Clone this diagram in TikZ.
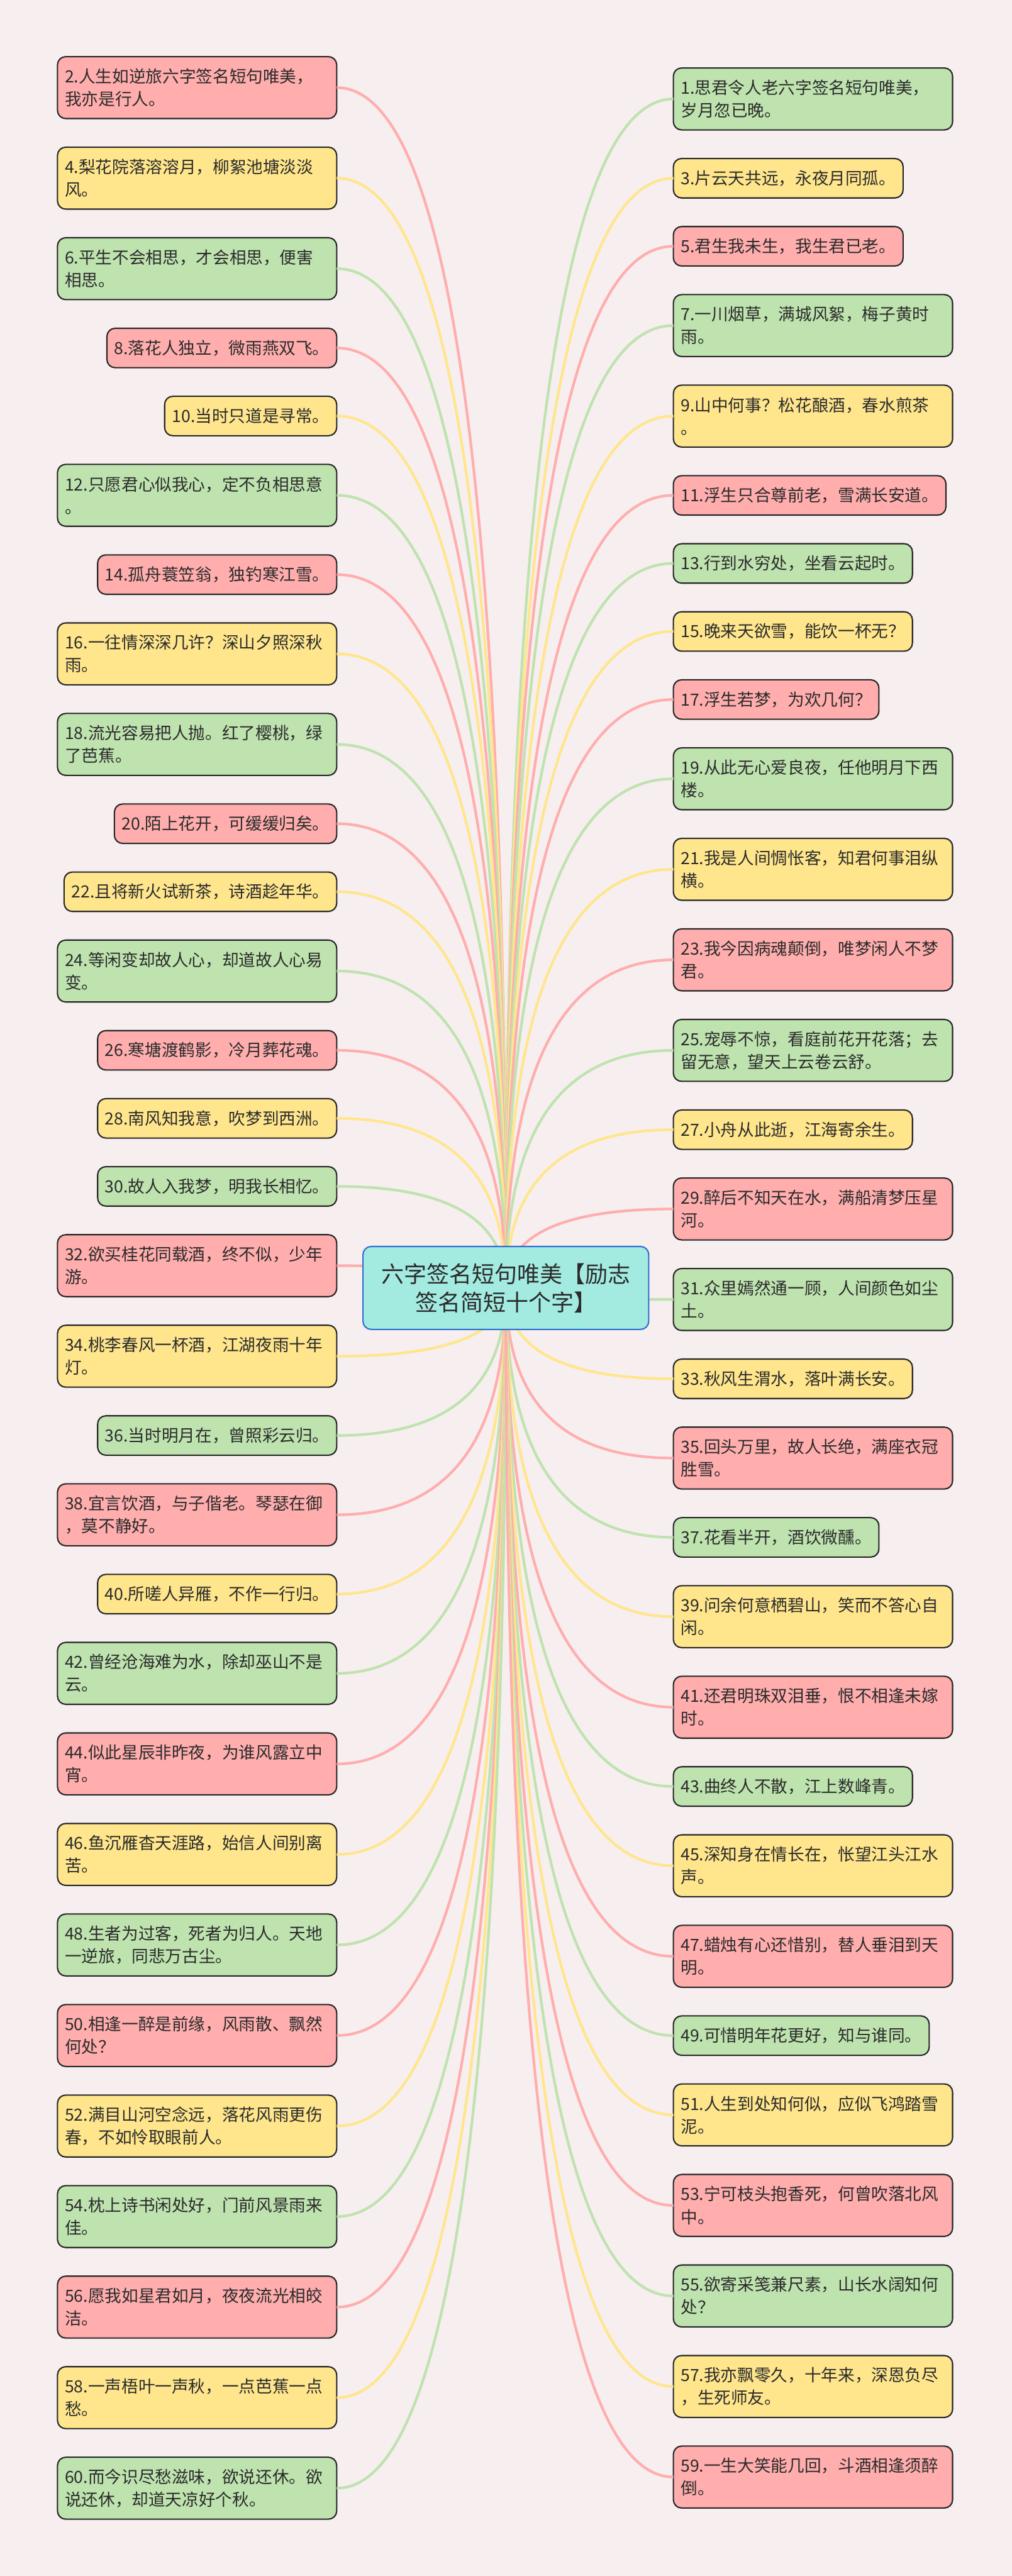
\documentclass[tikz,border=0pt]{standalone}
\usepackage{fontspec}
\setmainfont{Noto Sans CJK SC}
\usetikzlibrary{positioning,calc}
\definecolor{paper}{HTML}{F7EEEF}
\definecolor{rosef}{HTML}{FFADAD}
\definecolor{sunf}{HTML}{FFE68C}
\definecolor{leaff}{HTML}{BEE3AF}
\definecolor{themef}{HTML}{A3EBE1}
\definecolor{themed}{HTML}{2F6FD0}
\definecolor{ink}{HTML}{2B2B2B}
\tikzset{
	sent/.style={rectangle,rounded corners=5pt,draw=black!85,line width=0.8pt,outer sep=0pt,inner xsep=4.5pt,inner ysep=0pt,align=left,text=ink,font=\fontsize{10.2}{13.8}\selectfont,minimum height=24pt},
	wide/.style={text width=161pt,minimum height=37.7pt},
	rbox/.style={sent,fill=rosef},
	ybox/.style={sent,fill=sunf},
	gbox/.style={sent,fill=leaff},
	tol/.style={line width=1.6pt,to path={(\tikztostart.east) .. controls ($(\tikztostart.east)!0.667!(\tikztotarget |- \tikztostart.east)$) and ($(\tikztotarget)!0.667!(\tikztotarget |- \tikztostart.east)$) .. (\tikztotarget)}},
	tor/.style={line width=1.6pt,to path={(\tikztostart.west) .. controls ($(\tikztostart.west)!0.667!(\tikztotarget |- \tikztostart.west)$) and ($(\tikztotarget)!0.667!(\tikztotarget |- \tikztostart.west)$) .. (\tikztotarget)}},
}
\begin{document}
\begin{tikzpicture}[x=1pt,y=1pt,node distance=17.43pt]
		\fill [paper] (0,0) rectangle (616,-1568.6);
		\useasboundingbox (0,0) rectangle (616,-1568.6);
		\coordinate (hub) at (308,-784.25);
		% left side
		\node [rbox,wide,anchor=north east] (l2) at (205,-34.5) {2.人生如逆旅六字签名短句唯美，\\我亦是行人。}
			edge [tol,draw=rosef] (hub);
		\node [ybox,wide] (l4) [below=of l2.south east,anchor=north east] {4.梨花院落溶溶月，柳絮池塘淡淡\\风。}
			edge [tol,draw=sunf] (hub);
		\node [gbox,wide] (l6) [below=of l4.south east,anchor=north east] {6.平生不会相思，才会相思，便害\\相思。}
			edge [tol,draw=leaff] (hub);
		\node [rbox] (l8) [below=of l6.south east,anchor=north east] {8.落花人独立，微雨燕双飞。}
			edge [tol,draw=rosef] (hub);
		\node [ybox] (l10) [below=of l8.south east,anchor=north east] {10.当时只道是寻常。}
			edge [tol,draw=sunf] (hub);
		\node [gbox,wide] (l12) [below=of l10.south east,anchor=north east] {12.只愿君心似我心，定不负相思意\\。}
			edge [tol,draw=leaff] (hub);
		\node [rbox] (l14) [below=of l12.south east,anchor=north east] {14.孤舟蓑笠翁，独钓寒江雪。}
			edge [tol,draw=rosef] (hub);
		\node [ybox,wide] (l16) [below=of l14.south east,anchor=north east] {16.一往情深深几许？深山夕照深秋\\雨。}
			edge [tol,draw=sunf] (hub);
		\node [gbox,wide] (l18) [below=of l16.south east,anchor=north east] {18.流光容易把人抛。红了樱桃，绿\\了芭蕉。}
			edge [tol,draw=leaff] (hub);
		\node [rbox] (l20) [below=of l18.south east,anchor=north east] {20.陌上花开，可缓缓归矣。}
			edge [tol,draw=rosef] (hub);
		\node [ybox] (l22) [below=of l20.south east,anchor=north east] {22.且将新火试新茶，诗酒趁年华。}
			edge [tol,draw=sunf] (hub);
		\node [gbox,wide] (l24) [below=of l22.south east,anchor=north east] {24.等闲变却故人心，却道故人心易\\变。}
			edge [tol,draw=leaff] (hub);
		\node [rbox] (l26) [below=of l24.south east,anchor=north east] {26.寒塘渡鹤影，冷月葬花魂。}
			edge [tol,draw=rosef] (hub);
		\node [ybox] (l28) [below=of l26.south east,anchor=north east] {28.南风知我意，吹梦到西洲。}
			edge [tol,draw=sunf] (hub);
		\node [gbox] (l30) [below=of l28.south east,anchor=north east] {30.故人入我梦，明我长相忆。}
			edge [tol,draw=leaff] (hub);
		\node [rbox,wide] (l32) [below=of l30.south east,anchor=north east] {32.欲买桂花同载酒，终不似，少年\\游。}
			edge [tol,draw=rosef] (hub);
		\node [ybox,wide] (l34) [below=of l32.south east,anchor=north east] {34.桃李春风一杯酒，江湖夜雨十年\\灯。}
			edge [tol,draw=sunf] (hub);
		\node [gbox] (l36) [below=of l34.south east,anchor=north east] {36.当时明月在，曾照彩云归。}
			edge [tol,draw=leaff] (hub);
		\node [rbox,wide] (l38) [below=of l36.south east,anchor=north east] {38.宜言饮酒，与子偕老。琴瑟在御\\，莫不静好。}
			edge [tol,draw=rosef] (hub);
		\node [ybox] (l40) [below=of l38.south east,anchor=north east] {40.所嗟人异雁，不作一行归。}
			edge [tol,draw=sunf] (hub);
		\node [gbox,wide] (l42) [below=of l40.south east,anchor=north east] {42.曾经沧海难为水，除却巫山不是\\云。}
			edge [tol,draw=leaff] (hub);
		\node [rbox,wide] (l44) [below=of l42.south east,anchor=north east] {44.似此星辰非昨夜，为谁风露立中\\宵。}
			edge [tol,draw=rosef] (hub);
		\node [ybox,wide] (l46) [below=of l44.south east,anchor=north east] {46.鱼沉雁杳天涯路，始信人间别离\\苦。}
			edge [tol,draw=sunf] (hub);
		\node [gbox,wide] (l48) [below=of l46.south east,anchor=north east] {48.生者为过客，死者为归人。天地\\一逆旅，同悲万古尘。}
			edge [tol,draw=leaff] (hub);
		\node [rbox,wide] (l50) [below=of l48.south east,anchor=north east] {50.相逢一醉是前缘，风雨散、飘然\\何处？}
			edge [tol,draw=rosef] (hub);
		\node [ybox,wide] (l52) [below=of l50.south east,anchor=north east] {52.满目山河空念远，落花风雨更伤\\春，不如怜取眼前人。}
			edge [tol,draw=sunf] (hub);
		\node [gbox,wide] (l54) [below=of l52.south east,anchor=north east] {54.枕上诗书闲处好，门前风景雨来\\佳。}
			edge [tol,draw=leaff] (hub);
		\node [rbox,wide] (l56) [below=of l54.south east,anchor=north east] {56.愿我如星君如月，夜夜流光相皎\\洁。}
			edge [tol,draw=rosef] (hub);
		\node [ybox,wide] (l58) [below=of l56.south east,anchor=north east] {58.一声梧叶一声秋，一点芭蕉一点\\愁。}
			edge [tol,draw=sunf] (hub);
		\node [gbox,wide] (l60) [below=of l58.south east,anchor=north east] {60.而今识尽愁滋味，欲说还休。欲\\说还休，却道天凉好个秋。}
			edge [tol,draw=leaff] (hub);
		% right side
		\node [gbox,wide,anchor=north west] (r1) at (410,-41.4) {1.思君令人老六字签名短句唯美，\\岁月忽已晚。}
			edge [tor,draw=leaff] (hub);
		\node [ybox] (r3) [below=of r1.south west,anchor=north west] {3.片云天共远，永夜月同孤。}
			edge [tor,draw=sunf] (hub);
		\node [rbox] (r5) [below=of r3.south west,anchor=north west] {5.君生我未生，我生君已老。}
			edge [tor,draw=rosef] (hub);
		\node [gbox,wide] (r7) [below=of r5.south west,anchor=north west] {7.一川烟草，满城风絮，梅子黄时\\雨。}
			edge [tor,draw=leaff] (hub);
		\node [ybox,wide] (r9) [below=of r7.south west,anchor=north west] {9.山中何事？松花酿酒，春水煎茶\\。}
			edge [tor,draw=sunf] (hub);
		\node [rbox] (r11) [below=of r9.south west,anchor=north west] {11.浮生只合尊前老，雪满长安道。}
			edge [tor,draw=rosef] (hub);
		\node [gbox] (r13) [below=of r11.south west,anchor=north west] {13.行到水穷处，坐看云起时。}
			edge [tor,draw=leaff] (hub);
		\node [ybox] (r15) [below=of r13.south west,anchor=north west] {15.晚来天欲雪，能饮一杯无？}
			edge [tor,draw=sunf] (hub);
		\node [rbox] (r17) [below=of r15.south west,anchor=north west] {17.浮生若梦，为欢几何？}
			edge [tor,draw=rosef] (hub);
		\node [gbox,wide] (r19) [below=of r17.south west,anchor=north west] {19.从此无心爱良夜，任他明月下西\\楼。}
			edge [tor,draw=leaff] (hub);
		\node [ybox,wide] (r21) [below=of r19.south west,anchor=north west] {21.我是人间惆怅客，知君何事泪纵\\横。}
			edge [tor,draw=sunf] (hub);
		\node [rbox,wide] (r23) [below=of r21.south west,anchor=north west] {23.我今因病魂颠倒，唯梦闲人不梦\\君。}
			edge [tor,draw=rosef] (hub);
		\node [gbox,wide] (r25) [below=of r23.south west,anchor=north west] {25.宠辱不惊，看庭前花开花落；去\\留无意，望天上云卷云舒。}
			edge [tor,draw=leaff] (hub);
		\node [ybox] (r27) [below=of r25.south west,anchor=north west] {27.小舟从此逝，江海寄余生。}
			edge [tor,draw=sunf] (hub);
		\node [rbox,wide] (r29) [below=of r27.south west,anchor=north west] {29.醉后不知天在水，满船清梦压星\\河。}
			edge [tor,draw=rosef] (hub);
		\node [gbox,wide] (r31) [below=of r29.south west,anchor=north west] {31.众里嫣然通一顾，人间颜色如尘\\土。}
			edge [tor,draw=leaff] (hub);
		\node [ybox] (r33) [below=of r31.south west,anchor=north west] {33.秋风生渭水，落叶满长安。}
			edge [tor,draw=sunf] (hub);
		\node [rbox,wide] (r35) [below=of r33.south west,anchor=north west] {35.回头万里，故人长绝，满座衣冠\\胜雪。}
			edge [tor,draw=rosef] (hub);
		\node [gbox] (r37) [below=of r35.south west,anchor=north west] {37.花看半开，酒饮微醺。}
			edge [tor,draw=leaff] (hub);
		\node [ybox,wide] (r39) [below=of r37.south west,anchor=north west] {39.问余何意栖碧山，笑而不答心自\\闲。}
			edge [tor,draw=sunf] (hub);
		\node [rbox,wide] (r41) [below=of r39.south west,anchor=north west] {41.还君明珠双泪垂，恨不相逢未嫁\\时。}
			edge [tor,draw=rosef] (hub);
		\node [gbox] (r43) [below=of r41.south west,anchor=north west] {43.曲终人不散，江上数峰青。}
			edge [tor,draw=leaff] (hub);
		\node [ybox,wide] (r45) [below=of r43.south west,anchor=north west] {45.深知身在情长在，怅望江头江水\\声。}
			edge [tor,draw=sunf] (hub);
		\node [rbox,wide] (r47) [below=of r45.south west,anchor=north west] {47.蜡烛有心还惜别，替人垂泪到天\\明。}
			edge [tor,draw=rosef] (hub);
		\node [gbox] (r49) [below=of r47.south west,anchor=north west] {49.可惜明年花更好，知与谁同。}
			edge [tor,draw=leaff] (hub);
		\node [ybox,wide] (r51) [below=of r49.south west,anchor=north west] {51.人生到处知何似，应似飞鸿踏雪\\泥。}
			edge [tor,draw=sunf] (hub);
		\node [rbox,wide] (r53) [below=of r51.south west,anchor=north west] {53.宁可枝头抱香死，何曾吹落北风\\中。}
			edge [tor,draw=rosef] (hub);
		\node [gbox,wide] (r55) [below=of r53.south west,anchor=north west] {55.欲寄采笺兼尺素，山长水阔知何\\处？}
			edge [tor,draw=leaff] (hub);
		\node [ybox,wide] (r57) [below=of r55.south west,anchor=north west] {57.我亦飘零久，十年来，深恩负尽\\，生死师友。}
			edge [tor,draw=sunf] (hub);
		\node [rbox,wide] (r59) [below=of r57.south west,anchor=north west] {59.一生大笑能几回，斗酒相逢须醉\\倒。}
			edge [tor,draw=rosef] (hub);
		% the theme goes last, over the ends of the links
		\node [rectangle,rounded corners=5pt,draw=themed,line width=0.8pt,fill=themef,minimum width=174pt,minimum height=50.5pt,align=center,text=ink,font=\fontsize{13.8}{17.2}\selectfont] (theme) at (hub) {六字签名短句唯美【励志\\签名简短十个字】};
	\end{tikzpicture}
\end{document}
